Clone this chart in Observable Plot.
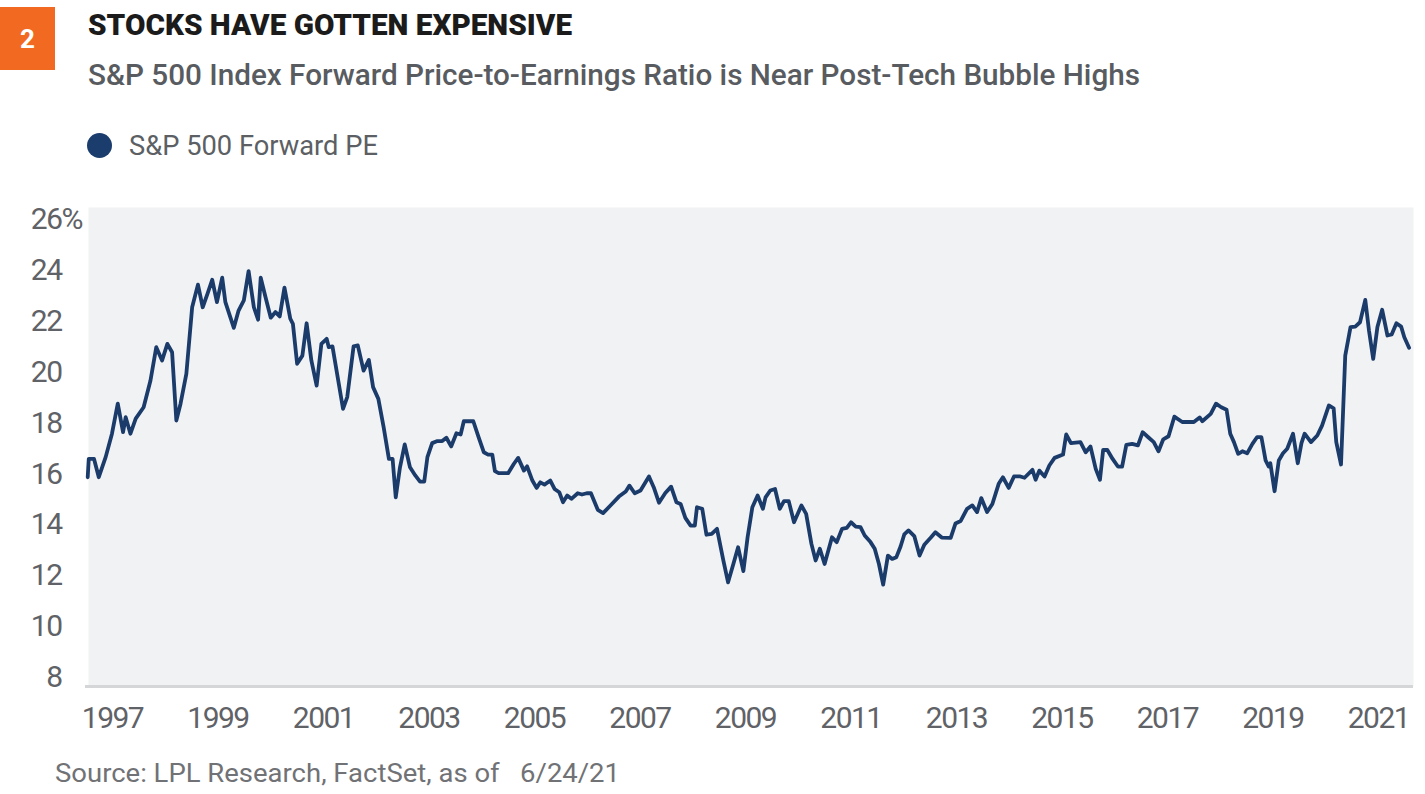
<!DOCTYPE html>
<html><head><meta charset="utf-8">
<script src="https://cdn.jsdelivr.net/npm/d3@7"></script>
<script src="https://cdn.jsdelivr.net/npm/@observablehq/plot@0.6"></script>
<style>
body{margin:0;background:#fff;font-family:Roboto,sans-serif;}
#wrap{position:relative;width:1425px;height:794px;overflow:hidden;background:#fff;}
.abs{position:absolute;white-space:pre;line-height:1;transform-origin:0 0;}
#badge{left:0;top:7px;width:55px;height:63px;background:#f26a21;color:#fff;font-weight:700;font-size:26px;display:flex;align-items:center;justify-content:center;position:absolute;}
#title{left:88px;top:10px;font-size:30px;font-weight:900;color:#1b1b1b;}
#subtitle{left:88px;top:61px;font-size:29px;font-weight:500;color:#585b60;}
#dot{position:absolute;left:87px;top:133px;width:25px;height:25px;border-radius:50%;background:#1b3d6d;}
#legend{left:129px;top:132px;font-size:28px;color:#5c5f63;}
#caption{left:55px;top:761px;font-size:25px;color:#707275;}
#chart{position:absolute;left:0;top:195px;}
</style></head>
<body><div id="wrap">
<div id="badge">2</div>
<div id="title" class="abs">STOCKS HAVE GOTTEN EXPENSIVE</div>
<div id="subtitle" class="abs">S&amp;P 500 Index Forward Price-to-Earnings Ratio is Near Post-Tech Bubble Highs</div>
<div id="dot"></div>
<div id="legend" class="abs">S&amp;P 500 Forward PE</div>
<div id="chart"></div>
<div id="caption" class="abs">Source: LPL Research, FactSet, as of   6/24/21</div>
</div>
<script>
const years = [1996.53,1996.55,1996.65,1996.74,1996.87,1996.99,1997.10,1997.20,1997.25,1997.34,1997.44,1997.59,1997.72,1997.83,1997.94,1998.04,1998.13,1998.21,1998.29,1998.40,1998.51,1998.62,1998.71,1998.80,1998.89,1998.98,1999.08,1999.14,1999.30,1999.39,1999.49,1999.58,1999.68,1999.76,1999.81,1999.90,2000.00,2000.09,2000.17,2000.26,2000.37,2000.42,2000.50,2000.60,2000.68,2000.77,2000.87,2000.96,2001.06,2001.10,2001.17,2001.37,2001.45,2001.57,2001.65,2001.76,2001.86,2001.94,2002.04,2002.14,2002.24,2002.31,2002.37,2002.45,2002.54,2002.64,2002.74,2002.83,2002.91,2002.97,2003.06,2003.16,2003.25,2003.33,2003.42,2003.52,2003.60,2003.66,2003.84,2003.94,2004.04,2004.12,2004.20,2004.25,2004.32,2004.50,2004.61,2004.69,2004.80,2004.86,2004.96,2005.04,2005.11,2005.19,2005.30,2005.38,2005.47,2005.54,2005.62,2005.70,2005.82,2005.90,2005.99,2006.07,2006.20,2006.30,2006.44,2006.60,2006.73,2006.80,2006.90,2007.01,2007.17,2007.26,2007.36,2007.48,2007.59,2007.69,2007.77,2007.86,2007.96,2008.04,2008.08,2008.18,2008.26,2008.36,2008.46,2008.58,2008.67,2008.77,2008.86,2008.96,2009.04,2009.13,2009.23,2009.33,2009.38,2009.47,2009.56,2009.65,2009.73,2009.82,2009.92,2010.06,2010.15,2010.25,2010.33,2010.41,2010.50,2010.64,2010.73,2010.83,2010.92,2011.00,2011.09,2011.18,2011.26,2011.37,2011.45,2011.53,2011.61,2011.70,2011.78,2011.86,2011.94,2012.01,2012.09,2012.20,2012.30,2012.39,2012.51,2012.60,2012.72,2012.89,2012.98,2013.08,2013.20,2013.30,2013.39,2013.47,2013.58,2013.68,2013.80,2013.88,2013.99,2014.09,2014.21,2014.29,2014.44,2014.50,2014.57,2014.67,2014.76,2014.86,2015.02,2015.08,2015.17,2015.35,2015.45,2015.54,2015.64,2015.72,2015.78,2015.86,2015.96,2016.06,2016.14,2016.22,2016.33,2016.44,2016.53,2016.63,2016.74,2016.83,2016.92,2017.02,2017.13,2017.28,2017.50,2017.61,2017.66,2017.82,2017.92,2018.02,2018.12,2018.19,2018.26,2018.34,2018.42,2018.51,2018.61,2018.70,2018.78,2018.86,2018.92,2018.95,2019.03,2019.11,2019.19,2019.27,2019.38,2019.47,2019.54,2019.60,2019.72,2019.84,2019.93,2020.06,2020.15,2020.20,2020.29,2020.37,2020.47,2020.56,2020.65,2020.75,2020.82,2020.90,2020.98,2021.07,2021.17,2021.25,2021.34,2021.43,2021.49,2021.58];
const pe = [15.87,16.59,16.59,15.87,16.66,17.58,18.76,17.64,18.23,17.58,18.17,18.62,19.67,20.98,20.46,21.11,20.78,18.10,18.76,19.93,22.55,23.44,22.55,23.08,23.63,22.75,23.71,22.75,21.74,22.42,22.82,23.97,22.55,22.06,23.71,22.95,22.14,22.36,22.19,23.32,22.10,21.90,20.33,20.65,21.92,20.46,19.47,21.11,21.31,20.98,21.01,18.56,19.02,21.01,21.05,20.06,20.48,19.41,18.95,17.84,16.59,16.59,15.08,16.26,17.16,16.26,15.94,15.70,15.70,16.66,17.21,17.29,17.29,17.42,17.08,17.60,17.55,18.07,18.07,17.45,16.85,16.76,16.76,16.11,16.03,16.03,16.40,16.63,16.13,16.30,15.74,15.45,15.67,15.58,15.74,15.41,15.28,14.89,15.15,15.02,15.24,15.19,15.24,15.24,14.59,14.46,14.76,15.11,15.31,15.54,15.24,15.35,15.90,15.48,14.87,15.25,15.50,14.89,14.82,14.27,13.97,13.97,14.69,14.63,13.61,13.64,13.84,12.60,11.74,12.46,13.12,12.18,13.51,14.69,15.15,14.63,15.08,15.35,15.41,14.63,14.93,14.93,14.10,14.76,14.43,13.25,12.60,13.06,12.46,13.51,13.32,13.84,13.88,14.10,13.93,13.91,13.58,13.32,13.06,12.46,11.65,12.79,12.66,12.73,13.15,13.62,13.78,13.56,12.79,13.22,13.49,13.71,13.50,13.49,14.05,14.15,14.63,14.76,14.50,15.05,14.50,14.82,15.61,15.87,15.45,15.90,15.90,15.85,16.16,15.77,16.13,15.90,16.33,16.63,16.76,17.55,17.21,17.25,16.85,17.08,16.20,15.77,16.94,16.94,16.59,16.29,16.29,17.14,17.18,17.12,17.64,17.45,17.25,16.89,17.36,17.48,18.25,18.04,18.04,18.22,18.07,18.36,18.76,18.62,18.52,17.58,17.25,16.79,16.89,16.81,17.18,17.45,17.45,16.53,16.29,16.42,15.32,16.53,16.81,16.99,17.58,16.42,17.21,17.58,17.25,17.51,17.90,18.69,18.58,17.25,16.37,20.65,21.77,21.79,21.96,22.84,21.64,20.52,21.77,22.45,21.44,21.48,21.92,21.79,21.37,20.96];
const xTicks = [1997,1999,2001,2003,2005,2007,2009,2011,2013,2015,2017,2019,2021];
const yTicks = [8,10,12,14,16,18,20,22,24,26];
const xDomain = [1996.545, 2021.664];
const yDomain = [7.646, 26.47];

const data = years.map((year, i) => ({year, pe: pe[i]}));

const chart = Plot.plot({
  width: 1425, height: 540,
  marginTop: 12, marginBottom: 49, marginLeft: 88, marginRight: 12,
  style: {fontFamily: "Roboto, sans-serif", fontSize: "30px", color: "#5f6266", background: "transparent", letterSpacing: "-1.5px", overflow: "visible"},
  x: {domain: xDomain, label: null},
  y: {domain: yDomain, label: null},
  marks: [
    Plot.frame({fill: "#f1f2f4", stroke: null}),
    Plot.ruleY([yDomain[0]], {stroke: "#d5d6d8", strokeWidth: 3, insetLeft: -3}),
    Plot.axisY(yTicks, {tickSize: 0, tickPadding: 27, tickFormat: d => String(d), fontSize: 30}),
    Plot.text([yTicks[yTicks.length - 1]], {y: d => d, text: () => "%", frameAnchor: "left", dx: -27, textAnchor: "start", fontSize: 30, fill: "currentColor"}),
    Plot.axisX(xTicks, {tickSize: 0, tickPadding: 20, tickFormat: d => String(d), fontSize: 30}),
    Plot.line(data, {x: "year", y: "pe", stroke: "#1b3c6b", strokeWidth: 3.8, strokeLinejoin: "round", strokeLinecap: "round"})
  ]
});
document.getElementById("chart").appendChild(chart);

function fit(id, w) {
  const el = document.getElementById(id);
  el.style.transform = "none";
  const r = el.getBoundingClientRect().width;
  if (r > 0) el.style.transform = `scaleX(${w / r})`;
}
function fitAll() {
  fit("title", 484);
  fit("subtitle", 1052);
  fit("legend", 249);
  fit("caption", 565);
}
fitAll();
if (document.fonts && document.fonts.ready) document.fonts.ready.then(fitAll);
</script>
</body></html>
